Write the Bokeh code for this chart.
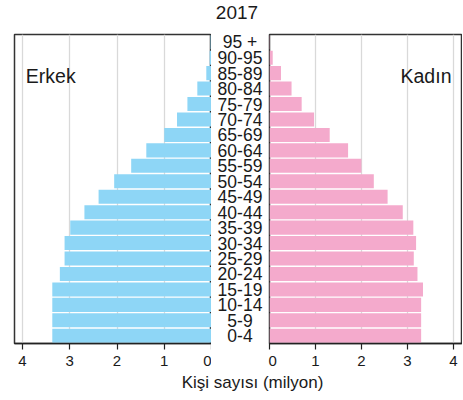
from bokeh.plotting import figure
from bokeh.layouts import column, row
from bokeh.models import Range1d, FactorRange, FixedTicker, ColumnDataSource
from bokeh.core.properties import value
from bokeh.embed import file_html
from bokeh.resources import INLINE

# ---- data ----
ages = ["0-4", "5-9", "10-14", "15-19", "20-24", "25-29", "30-34", "35-39",
        "40-44", "45-49", "50-54", "55-59", "60-64", "65-69", "70-74",
        "75-79", "80-84", "85-89", "90-95", "95 +"]
male = [3.37, 3.37, 3.37, 3.37, 3.21, 3.11, 3.11, 2.99, 2.69, 2.39,
        2.06, 1.70, 1.38, 1.00, 0.73, 0.51, 0.30, 0.11, 0.04, 0.02]
female = [3.30, 3.30, 3.30, 3.34, 3.22, 3.14, 3.19, 3.13, 2.90, 2.57,
          2.27, 2.00, 1.71, 1.31, 0.97, 0.70, 0.48, 0.25, 0.07, 0.01]
x_ticks = [0, 1, 2, 3, 4]
title_text = "2017"
x_label = "Kişi sayısı (milyon)"
male_label = "Erkek"
female_label = "Kadın"

FONT = value("Liberation Sans")
TXT = "#1a1a1a"
BLUE = "#8ed6f6"
PINK = "#f4aacc"

yr = FactorRange(factors=ages, range_padding=0)


def panel(width, xr, vals, color, mbl, mbr):
    p = figure(width=width, height=340, x_range=xr, y_range=yr,
               output_backend="svg", toolbar_location=None,
               min_border_left=mbl, min_border_right=mbr,
               min_border_top=1, min_border_bottom=30)
    src = ColumnDataSource(dict(age=ages, v=vals))
    p.hbar(y="age", left=0, right="v", height=0.91, source=src,
           fill_color=color, line_color=None)
    p.yaxis.visible = False
    p.ygrid.visible = False
    p.xgrid.ticker = FixedTicker(ticks=x_ticks)
    p.xgrid.grid_line_color = "#d9d9d9"
    p.xgrid.grid_line_width = 1.3
    ax = p.xaxis[0]
    ax.ticker = FixedTicker(ticks=x_ticks)
    ax.major_label_text_font = "Liberation Sans"
    ax.major_label_text_font_size = "15px"
    ax.major_label_text_color = TXT
    ax.axis_line_color = "#222222"
    ax.axis_line_width = 1.5
    ax.major_tick_line_color = "#222222"
    ax.major_tick_line_width = 1.2
    ax.major_tick_out = 6
    ax.major_tick_in = 0
    ax.minor_tick_line_color = None
    ax.major_label_standoff = 6
    p.outline_line_color = "#333333"
    p.outline_line_width = 1.5
    p.background_fill_color = "white"
    return p


left = panel(211, Range1d(4.17, 0), male, BLUE, 14, 0)
left.text(x=[3.93], y=["85-89"], text=[male_label], y_offset=3,
          text_align="left", text_baseline="middle", text_font=FONT,
          text_font_size="19.5px", text_color=TXT)

right = panel(194, Range1d(0, 4.2), female, PINK, 1, 0)
right.text(x=[3.96], y=["85-89"], text=[female_label], y_offset=3,
           text_align="right", text_baseline="middle", text_font=FONT,
           text_font_size="19.5px", text_color=TXT)

mid = figure(width=57, height=340, x_range=Range1d(0, 1), y_range=yr,
             output_backend="svg", toolbar_location=None,
             x_axis_type=None, y_axis_type=None,
             min_border_left=0, min_border_right=0,
             min_border_top=1, min_border_bottom=30)
mid.outline_line_color = None
mid.text(x=0.5, y=ages, text=ages, text_align="center",
         text_baseline="middle", text_font=FONT, text_font_size="17.5px",
         text_color=TXT)

top = figure(width=462, height=33, x_range=Range1d(0, 462),
             y_range=Range1d(0, 33), output_backend="svg",
             toolbar_location=None, x_axis_type=None, y_axis_type=None,
             min_border=0)
top.outline_line_color = None
top.text(x=[236.5], y=[21.3], text=[title_text], text_align="center",
         text_baseline="middle", text_font=FONT, text_font_size="19px",
         text_color=TXT)

bottom = figure(width=462, height=23, x_range=Range1d(0, 462),
                y_range=Range1d(0, 23), output_backend="svg",
                toolbar_location=None, x_axis_type=None, y_axis_type=None,
                min_border=0)
bottom.outline_line_color = None
bottom.text(x=[252], y=[14], text=[x_label], text_align="center",
            text_baseline="middle", text_font=FONT, text_font_size="17px",
            text_color=TXT)

layout = column(top, row(left, mid, right), bottom)
open("out.html", "w").write(file_html(layout, INLINE))
